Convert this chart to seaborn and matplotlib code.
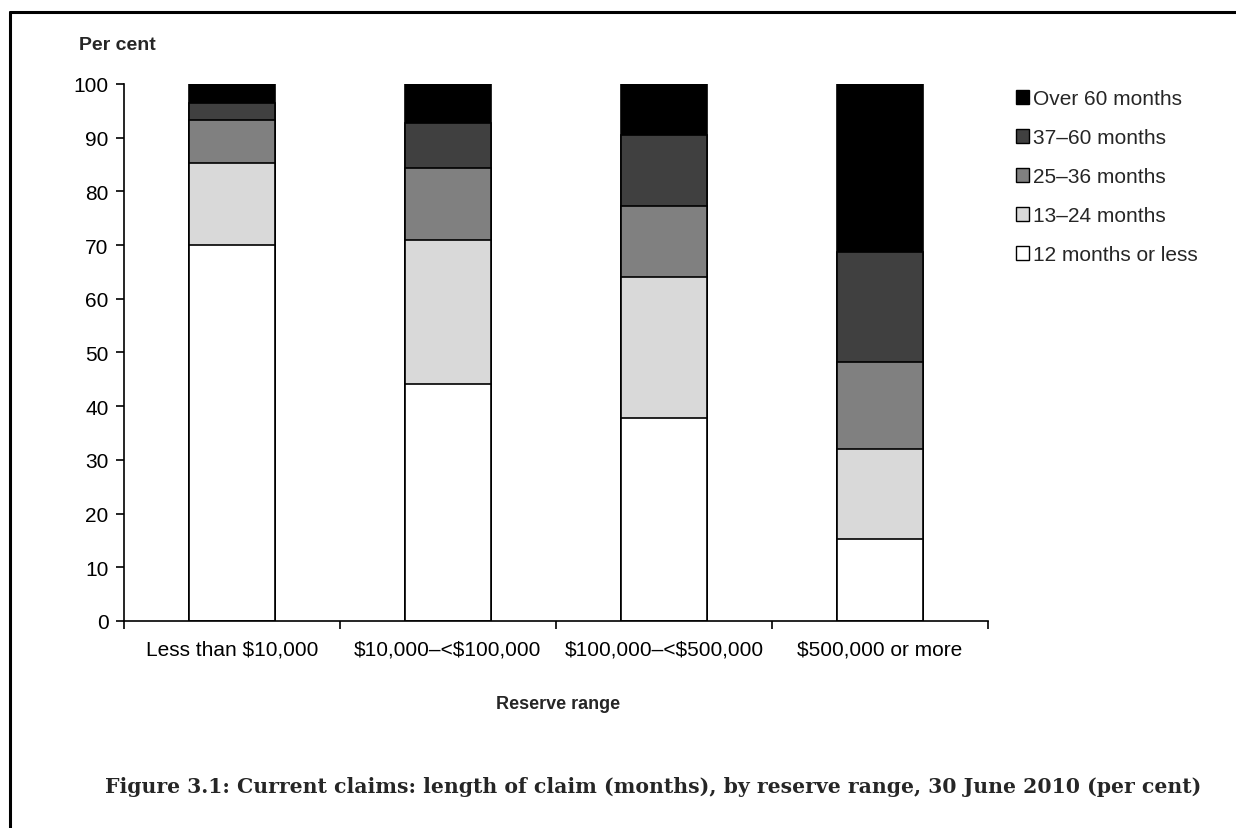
import matplotlib
matplotlib.use("Agg")
import matplotlib.pyplot as plt
import seaborn as sns
import pandas as pd
import numpy as np
from matplotlib.lines import Line2D
from matplotlib.patches import Patch

categories = ["Less than $10,000", "$10,000\u2013<$100,000", "$100,000\u2013<$500,000", "$500,000 or more"]
series_names = ["12 months or less", "13\u201324 months", "25\u201336 months", "37\u201360 months", "Over 60 months"]
s_12_or_less = [70.0, 44.1, 37.8, 15.3]
s_13_24 = [15.3, 26.9, 26.2, 16.8]
s_25_36 = [8.0, 13.3, 13.3, 16.1]
s_37_60 = [3.2, 8.4, 13.2, 20.6]
s_over_60 = [3.5, 7.3, 9.5, 31.2]
colors = ["#ffffff", "#d9d9d9", "#808080", "#404040", "#000000"]

sns.set_theme(style="white")
plt.rcParams["font.family"] = ["Liberation Sans", "DejaVu Sans"]
plt.rcParams["text.parse_math"] = False

series = [s_12_or_less, s_13_24, s_25_36, s_37_60, s_over_60]
rows = []
for name, vals in zip(series_names, series):
    for c, v in zip(categories, vals):
        rows.append({"category": c, "series": name, "value": v})
df = pd.DataFrame(rows)
df["cum"] = df.groupby("category")["value"].cumsum()

fig = plt.figure(figsize=(12.36, 8.29), dpi=100)
ax = fig.add_axes([0.1003, 0.2497, 0.6990, 0.6478])

for name, col in reversed(list(zip(series_names, colors))):
    sub = df[df["series"] == name]
    sns.barplot(data=sub, x="category", y="cum", order=categories, color=col,
                width=0.4, edgecolor="black", linewidth=1.2, ax=ax, saturation=1)

ax.set_ylim(0, 100)
ax.set_xlim(-0.5, 3.5)
ax.set_yticks(np.arange(0, 101, 10))
ax.tick_params(axis="y", direction="out", length=6, width=1.2, color="black",
               labelsize=15, left=True, pad=5, labelcolor="black")
ax.set_xticks(range(len(categories)))
ax.set_xticklabels(categories, fontsize=15, color="black")
ax.tick_params(axis="x", which="major", length=0, pad=13)
ax.set_xticks(np.arange(-0.5, 4, 1), minor=True)
ax.tick_params(axis="x", which="minor", direction="out", length=6, width=1.2, color="black", bottom=True)
for s in ["top", "right"]:
    ax.spines[s].set_visible(False)
for s in ["left", "bottom"]:
    ax.spines[s].set_color("black")
    ax.spines[s].set_linewidth(1.2)
ax.set_xlabel("")
ax.set_ylabel("")

fig.text(117 / 1236, 1 - 45 / 829, "Per cent", fontsize=14, fontweight="bold", ha="center", va="center")
fig.text(558 / 1236, 1 - 705 / 829, "Reserve range", fontsize=13, fontweight="bold", ha="center", va="center")
fig.text(105 / 1236, 1 - 787 / 829, "Figure 3.1: Current claims: length of claim (months), by reserve range, 30 June 2010 (per cent)",
         fontsize=14.65, fontweight="bold", family=["DejaVu Serif"], ha="left", va="center")

handles = [Patch(facecolor=c, edgecolor="black", linewidth=1.0) for c in colors]
leg = fig.legend(handles[::-1], series_names[::-1], loc="upper left",
                 bbox_to_anchor=(1008 / 1236, 1 - 82 / 829), frameon=False, fontsize=15,
                 handlelength=0.6, handleheight=0.6, handletextpad=0.2, labelspacing=0.96,
                 borderaxespad=0)

fig.add_artist(Line2D([10 / 1236, 10 / 1236], [0, 1 - 13 / 829], color="black", lw=2.2, transform=fig.transFigure))
fig.add_artist(Line2D([10 / 1236, 1], [1 - 13 / 829, 1 - 13 / 829], color="black", lw=2.2, transform=fig.transFigure))

fig.savefig("out.png", dpi=100)
